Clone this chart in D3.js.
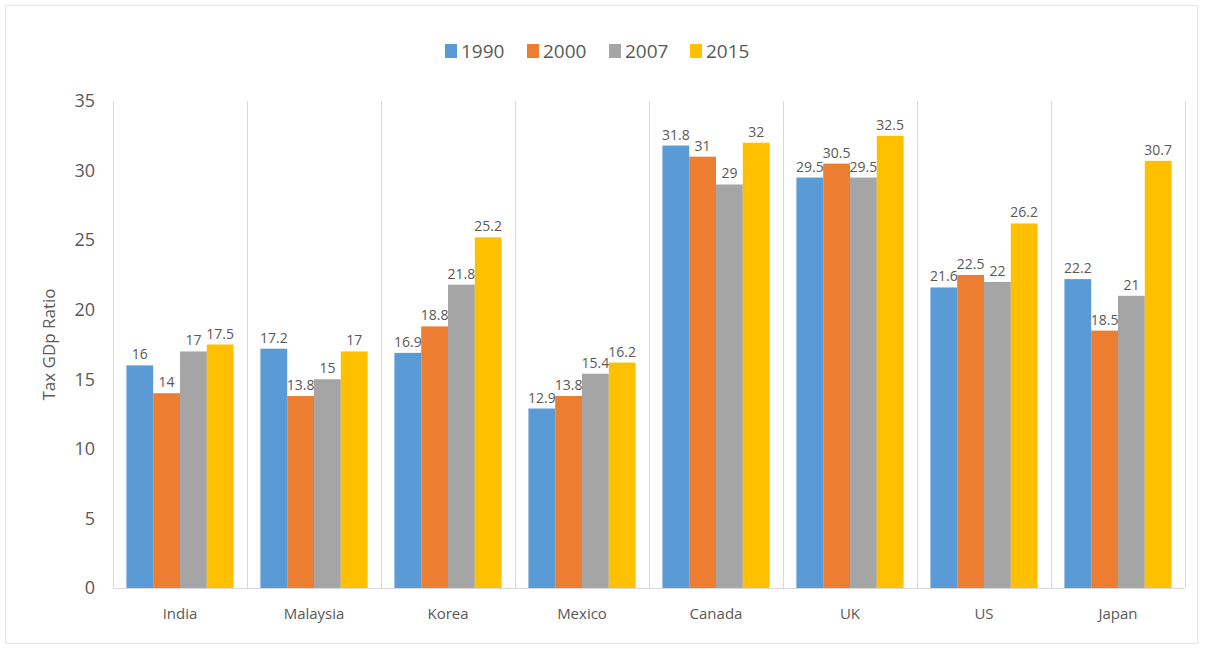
<!DOCTYPE html>
<html><head><meta charset="utf-8">
<script src="https://cdn.jsdelivr.net/npm/d3@7"></script>
<style>
html,body{margin:0;padding:0;background:#fff;}
svg text{font-family:"Open Sans",sans-serif;fill:#595959;}
</style></head>
<body><svg id="c" width="1205" height="657"></svg>
<script>
const categories = ["India","Malaysia","Korea","Mexico","Canada","UK","US","Japan"];
const seriesNames = ["1990","2000","2007","2015"];
const v1990 = [16, 17.2, 16.9, 12.9, 31.8, 29.5, 21.6, 22.2];
const v2000 = [14, 13.8, 18.8, 13.8, 31, 30.5, 22.5, 18.5];
const v2007 = [17, 15, 21.8, 15.4, 29, 29.5, 22, 21];
const v2015 = [17.5, 17, 25.2, 16.2, 32, 32.5, 26.2, 30.7];
const yTicks = [0,5,10,15,20,25,30,35];
const colors = ["#5B9BD5","#ED7D31","#A5A5A5","#FFC000"];
const seriesVals = [v1990, v2000, v2007, v2015];

const svg = d3.select("#c");
const m = {left:113, right:1185, top:101, bottom:588};

svg.append("rect").attr("x",5.5).attr("y",5.5).attr("width",1192).attr("height",638)
  .attr("fill","none").attr("stroke","#e6e6e6");

const x = d3.scaleBand().domain(categories).range([m.left, m.right]).paddingInner(0).paddingOuter(0);
const xi = d3.scaleBand().domain(seriesNames).range([0, x.bandwidth()]).paddingInner(0).paddingOuter(0.5);
const y = d3.scaleLinear().domain([0,35]).range([m.bottom, m.top]);

// vertical category separators
const seps = categories.map((c,i)=>x(c)).concat([m.right]);
svg.append("g").selectAll("line").data(seps).join("line")
  .attr("x1",d=>d+0.5).attr("x2",d=>d+0.5).attr("y1",m.top).attr("y2",m.bottom)
  .attr("stroke","#d9d9d9");

// y axis ticks labels
const yAxis = d3.axisLeft(y).tickValues(yTicks).tickSize(0).tickPadding(18);
const ga = svg.append("g").attr("transform",`translate(${m.left},0)`).call(yAxis);
ga.select(".domain").remove();
ga.selectAll("text").style("font-size","18px").attr("fill","#595959");

// baseline
svg.append("line").attr("x1",m.left).attr("x2",m.right).attr("y1",y(0)+0.5).attr("y2",y(0)+0.5).attr("stroke","#d9d9d9");

// bars
const g = svg.append("g");
categories.forEach((c,ci)=>{
  seriesNames.forEach((s,si)=>{
    const v = seriesVals[si][ci];
    const bx = x(c)+xi(s);
    g.append("rect").attr("x",bx).attr("y",y(v)).attr("width",xi.bandwidth()).attr("height",y(0)-y(v))
      .attr("fill",colors[si]);
    g.append("text").attr("x",bx+xi.bandwidth()/2).attr("y",y(v)-6).attr("text-anchor","middle")
      .style("font-size","14px").text(v);
  });
});

// x axis labels
const xAxis = d3.axisBottom(x).tickSize(0).tickPadding(20);
const gx = svg.append("g").attr("transform",`translate(0,${m.bottom})`).call(xAxis);
gx.select(".domain").remove();
gx.selectAll("text").style("font-size","15px").attr("fill","#595959");

// y label
svg.append("text").attr("transform",`translate(55,${(m.top+m.bottom)/2}) rotate(-90)`)
  .attr("text-anchor","middle").style("font-size","17px").text("Tax GDp Ratio");

// legend
const lg = svg.append("g");
const lx = [445, 527, 609, 690];
seriesNames.forEach((s,i)=>{
  lg.append("rect").attr("x",lx[i]).attr("y",44).attr("width",12).attr("height",14).attr("fill",colors[i]);
  lg.append("text").attr("x",lx[i]+16).attr("y",58).style("font-size","19px").text(s);
});
</script></body></html>
